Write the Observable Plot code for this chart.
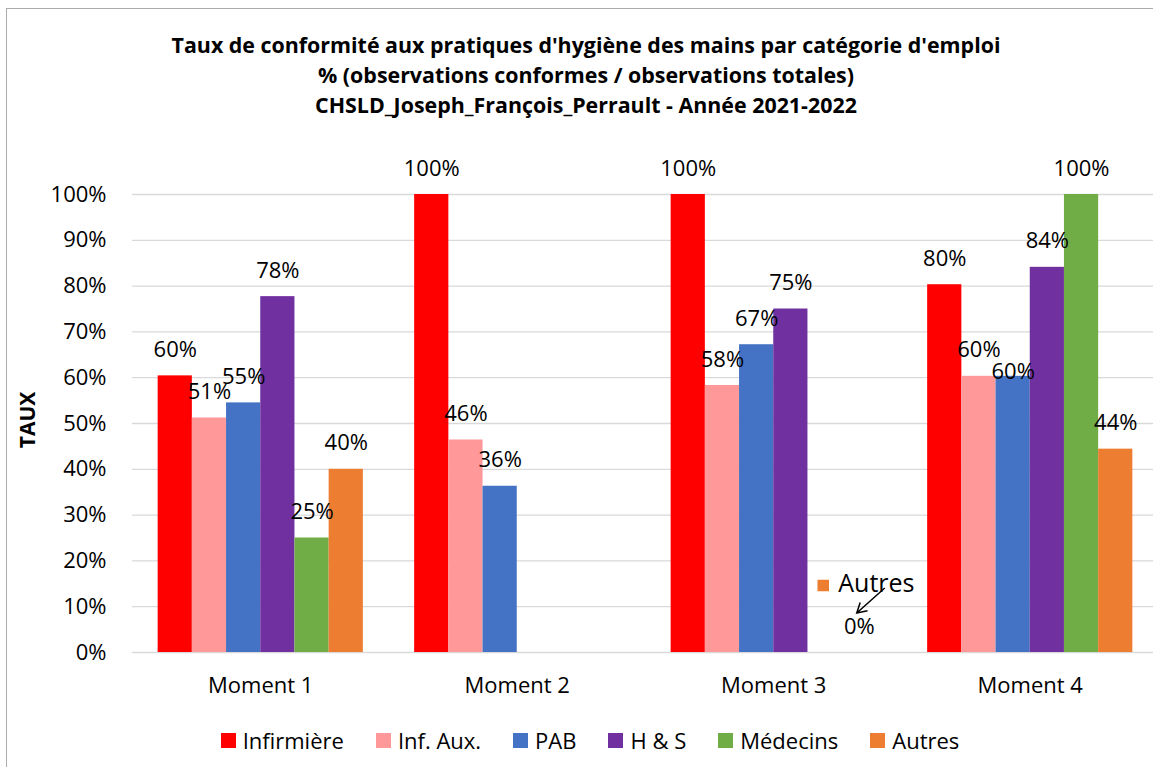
<!DOCTYPE html>
<html><head><meta charset="utf-8">
<script src="https://cdn.jsdelivr.net/npm/d3@7"></script>
<script src="https://cdn.jsdelivr.net/npm/@observablehq/plot@0.6"></script>
<style>
body{margin:0;background:#fff;width:1153px;height:767px;overflow:hidden;position:relative;font-family:"Open Sans",Lato,sans-serif;color:#000;}
#frame{position:absolute;left:6px;top:8px;width:1200px;height:800px;border:1px solid #ababab;box-sizing:border-box;}
#title{position:absolute;left:19px;top:30px;width:1134px;text-align:center;font-weight:bold;font-size:21.4px;line-height:30px;}
#chart{position:absolute;left:0;top:150px;}
#ylabel{position:absolute;left:27px;top:420px;transform:translate(-50%,-50%) rotate(-90deg);font-weight:bold;font-size:21px;white-space:nowrap;}
#legend{position:absolute;top:725px;left:27px;width:1126px;display:flex;justify-content:center;align-items:center;font-size:22px;}
.item{display:flex;align-items:center;margin:0 16px;}
.sw{width:15px;height:15px;margin-right:7px;}
</style></head>
<body>
<div id="frame"></div>
<div id="title">Taux de conformité aux pratiques d'hygiène des mains par catégorie d'emploi<br>% (observations conformes / observations totales)<br>CHSLD_Joseph_François_Perrault - Année 2021-2022</div>
<div id="ylabel">TAUX</div>
<div id="chart"></div>
<div id="legend"></div>
<script>
const moments = ["Moment 1", "Moment 2", "Moment 3", "Moment 4"];
const categories = ["Infirmière", "Inf. Aux.", "PAB", "H & S", "Médecins", "Autres"];
const colors = ["#FF0000", "#FF9999", "#4472C4", "#7030A0", "#70AD47", "#ED7D31"];
const infirmiere = [60.4, 100, 100, 80.3];
const infAux = [51.2, 46.4, 58.3, 60.3];
const pab = [54.5, 36.3, 67.2, 60.3];
const hs = [77.7, null, 75.0, 84.1];
const medecins = [25.0, null, null, 100];
const autres = [40.0, null, 0, 44.4];
const yTicks = [0, 10, 20, 30, 40, 50, 60, 70, 80, 90, 100];

const series = [infirmiere, infAux, pab, hs, medecins, autres];
const groupPad = 0.1, barW = 0.8 / categories.length;
const rows = [];
series.forEach((vals, j) => vals.forEach((v, i) => {
  if (v === null) return;
  const x1 = i + groupPad + j * barW;
  rows.push({moment: moments[i], cat: categories[j], i, j, value: v, x1, x2: x1 + barW, xc: x1 + barW / 2});
}));
const isShifted = d => d.moment === "Moment 4" && d.cat === "PAB";
const callout = rows.filter(d => d.moment === "Moment 3" && d.cat === "Autres");

const plot = Plot.plot({
  width: 1153, height: 560,
  marginTop: 44, marginBottom: 58, marginLeft: 132, marginRight: 0,
  x: {domain: [0, 4], range: [132, 1158]},
  y: {domain: [0, 100], range: [502, 44]},
  color: {domain: categories, range: colors},
  style: {fontFamily: "'Open Sans', Lato, sans-serif", fontSize: "22px", color: "#000", background: "transparent", overflow: "visible"},
  marks: [
    Plot.ruleY(yTicks, {y: d => d, x1: () => 0, x2: () => 4, stroke: "#d9d9d9", strokeWidth: 1.3}),
    Plot.rect(rows, {x1: "x1", x2: "x2", y1: () => 0, y2: "value", fill: "cat"}),
    Plot.text(rows.filter(d => !isShifted(d)), {x: "xc", y: "value", text: d => Math.round(d.value) + "%", dy: -26, fontSize: 22, fill: "#000"}),
    Plot.text(rows.filter(isShifted), {x: "xc", y: "value", text: d => Math.round(d.value) + "%", dy: -4, fontSize: 22, fill: "#000"}),
    Plot.dot(callout, {x: "xc", y: "value", symbol: "square", r: 6.5, fill: colors[5], dx: -36, dy: -67}),
    Plot.text(callout, {x: "xc", y: "value", text: d => d.cat, textAnchor: "start", dx: -21, dy: -69, fontSize: 25, fill: "#000"}),
    Plot.axisY(yTicks, {tickFormat: d => d + "%", tickSize: 0, tickPadding: 26, fontSize: 22, label: null}),
    Plot.axisX([0.5, 1.5, 2.5, 3.5], {tickFormat: d => moments[Math.floor(d)], tickSize: 0, tickPadding: 25, fontSize: 22, label: null})
  ]
});
document.getElementById("chart").appendChild(plot);

// leader arrow for the 0% "Autres" label, positioned through Plot's scales
const sx = plot.scale("x"), sy = plot.scale("y");
callout.forEach(d => {
  const px = sx.apply(d.xc), py = sy.apply(d.value);
  const x0 = px + 26, y0 = py - 64, x1 = px - 2, y1 = py - 39;
  const ang = Math.atan2(y1 - y0, x1 - x0), L = 11, a = Math.PI / 6;
  const h1 = [x1 - L * Math.cos(ang - a), y1 - L * Math.sin(ang - a)];
  const h2 = [x1 - L * Math.cos(ang + a), y1 - L * Math.sin(ang + a)];
  d3.select(plot).append("path")
    .attr("d", `M${x0},${y0}L${x1},${y1}M${h1[0]},${h1[1]}L${x1},${y1}L${h2[0]},${h2[1]}`)
    .attr("fill", "none").attr("stroke", "#000").attr("stroke-width", 1.5);
});

const legend = d3.select("#legend");
categories.forEach((c, k) => {
  const it = legend.append("div").attr("class", "item");
  it.append("div").attr("class", "sw").style("background", colors[k]);
  it.append("span").text(c);
});
</script>
</body></html>
